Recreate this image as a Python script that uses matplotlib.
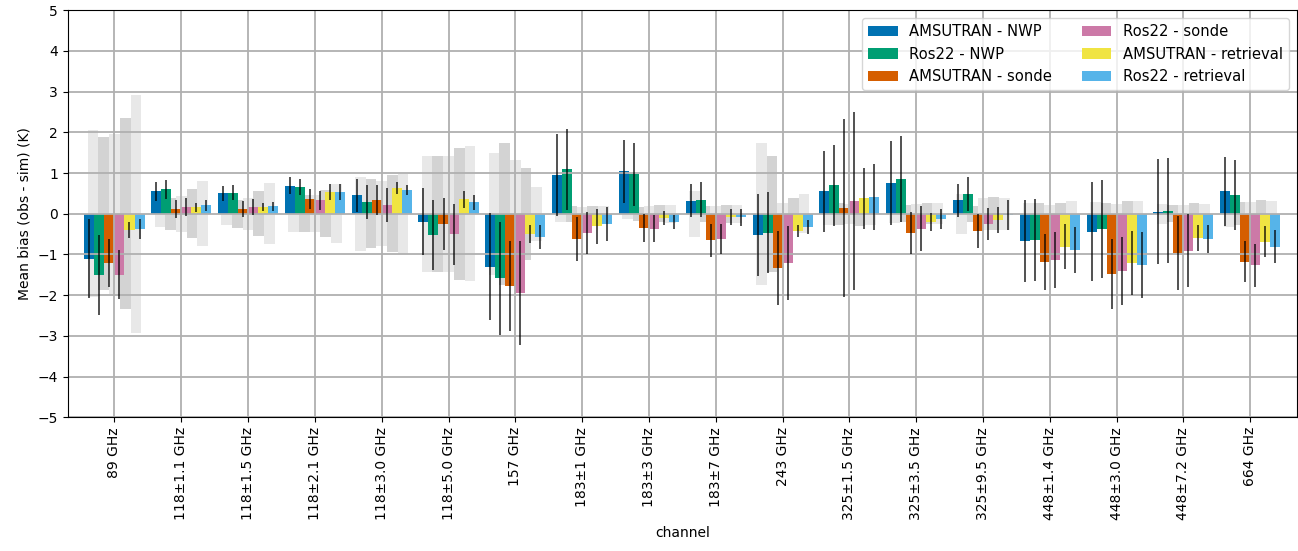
import numpy as np
import matplotlib
matplotlib.use("Agg")
import matplotlib.pyplot as plt

channels = ["89 GHz", "118±1.1 GHz", "118±1.5 GHz", "118±2.1 GHz", "118±3.0 GHz",
            "118±5.0 GHz", "157 GHz", "183±1 GHz", "183±3 GHz", "183±7 GHz",
            "243 GHz", "325±1.5 GHz", "325±3.5 GHz", "325±9.5 GHz", "448±1.4 GHz",
            "448±3.0 GHz", "448±7.2 GHz", "664 GHz"]

series_names = ["AMSUTRAN - NWP", "Ros22 - NWP", "AMSUTRAN - sonde",
                "Ros22 - sonde", "AMSUTRAN - retrieval", "Ros22 - retrieval"]

amsutran_nwp = [-1.10, 0.55, 0.50, 0.69, 0.45, -0.19, -1.30, 0.95, 1.04, 0.32,
                -0.52, 0.55, 0.75, 0.33, -0.67, -0.44, 0.05, 0.55]
ros22_nwp = [-1.50, 0.60, 0.52, 0.65, 0.29, -0.52, -1.58, 1.09, 0.97, 0.35,
             -0.46, 0.70, 0.85, 0.48, -0.64, -0.37, 0.08, 0.45]
amsutran_sonde = [-1.21, 0.11, 0.11, 0.36, 0.33, -0.25, -1.77, -0.62, -0.35, -0.65,
                  -1.33, 0.15, -0.47, -0.42, -1.18, -1.48, -0.96, -1.18]
ros22_sonde = [-1.50, 0.17, 0.17, 0.33, 0.21, -0.50, -1.95, -0.47, -0.37, -0.62,
               -1.21, 0.31, -0.37, -0.25, -1.13, -1.41, -0.91, -1.26]
amsutran_retr = [-0.39, 0.16, 0.16, 0.53, 0.63, 0.36, -0.50, -0.30, -0.10, -0.08,
                 -0.42, 0.38, -0.20, -0.15, -0.81, -1.21, -0.59, -0.69]
ros22_retr = [-0.37, 0.21, 0.18, 0.53, 0.58, 0.28, -0.57, -0.25, -0.20, -0.08,
              -0.32, 0.41, -0.13, -0.03, -0.89, -1.26, -0.62, -0.81]

err_amsutran_nwp = [0.96, 0.23, 0.19, 0.21, 0.40, 0.82, 1.32, 1.00, 0.78, 0.41,
                    1.00, 1.00, 1.03, 0.40, 1.00, 1.22, 1.29, 0.84]
err_ros22_nwp = [0.99, 0.23, 0.18, 0.20, 0.42, 0.87, 1.39, 1.00, 0.78, 0.42,
                 1.00, 0.99, 1.05, 0.42, 1.00, 1.21, 1.30, 0.86]
err_amsutran_sonde = [0.59, 0.22, 0.20, 0.24, 0.37, 0.64, 1.10, 0.53, 0.34, 0.40,
                      0.90, 2.19, 0.51, 0.42, 0.69, 0.85, 0.90, 0.50]
err_ros22_sonde = [0.60, 0.22, 0.20, 0.23, 0.42, 0.75, 1.28, 0.52, 0.33, 0.38,
                   0.90, 2.18, 0.55, 0.39, 0.69, 0.84, 0.90, 0.53]
err_amsutran_retr = [0.20, 0.11, 0.10, 0.20, 0.15, 0.21, 0.22, 0.43, 0.17, 0.19,
                     0.15, 0.75, 0.23, 0.31, 0.55, 0.79, 0.32, 0.38]
err_ros22_retr = [0.24, 0.13, 0.12, 0.20, 0.13, 0.19, 0.30, 0.41, 0.17, 0.21,
                  0.17, 0.82, 0.25, 0.36, 0.57, 0.82, 0.34, 0.41]

# grey background spread bars (five per channel, symmetric about zero)
spread_1 = [2.05, 0.32, 0.27, 0.45, 0.91, 1.43, 1.50, 0.20, 0.12, 0.56,
            1.75, 0.27, 0.22, 0.49, 0.26, 0.28, 0.25, 0.32]
spread_2 = [1.88, 0.40, 0.35, 0.45, 0.85, 1.42, 1.75, 0.19, 0.17, 0.19,
            1.43, 0.27, 0.21, 0.20, 0.26, 0.26, 0.21, 0.28]
spread_3 = [1.97, 0.44, 0.40, 0.45, 0.80, 1.43, 1.31, 0.16, 0.18, 0.18,
            0.26, 0.24, 0.23, 0.39, 0.21, 0.23, 0.21, 0.28]
spread_4 = [2.35, 0.60, 0.55, 0.58, 0.95, 1.62, 1.13, 0.18, 0.21, 0.22,
            0.38, 0.30, 0.26, 0.41, 0.26, 0.31, 0.26, 0.33]
spread_5 = [2.92, 0.80, 0.75, 0.72, 0.98, 1.66, 0.67, 0.18, 0.22, 0.22,
            0.48, 0.27, 0.26, 0.39, 0.31, 0.31, 0.23, 0.31]

y_ticks = [-5, -4, -3, -2, -1, 0, 1, 2, 3, 4, 5]

colors = ["#0072B2", "#009E73", "#D55E00", "#CC79A7", "#F0E442", "#56B4E9"]
grey_colors = ["#e8e8e8", "#d3d3d3", "#e8e8e8", "#d3d3d3", "#e8e8e8"]

means = [amsutran_nwp, ros22_nwp, amsutran_sonde, ros22_sonde, amsutran_retr, ros22_retr]
errs = [err_amsutran_nwp, err_ros22_nwp, err_amsutran_sonde, err_ros22_sonde,
        err_amsutran_retr, err_ros22_retr]
spreads = [spread_1, spread_2, spread_3, spread_4, spread_5]

fig = plt.figure(figsize=(12.98, 5.51), dpi=100)
ax = fig.add_axes([67.7 / 1298, 1 - 417.3 / 551, (1297 - 67.7) / 1298, (417.3 - 10.3) / 551])

x = np.arange(len(channels))
w = 0.15
gw = 0.16

for j, sp in enumerate(spreads):
    sp = np.array(sp)
    ax.bar(x + (j - 2) * gw, 2 * sp, bottom=-sp, width=gw, color=grey_colors[j],
           linewidth=0, zorder=0.5)

for i, (m, e) in enumerate(zip(means, errs)):
    pos = x + (i - 2.5) * w
    ax.bar(pos, m, width=w, color=colors[i], label=series_names[i], linewidth=0, zorder=1)
    ax.errorbar(pos, m, yerr=e, fmt="none", ecolor="k", elinewidth=1.2, alpha=0.8,
                capsize=0, zorder=2)

ax.set_xlim(-0.7, 17.7)
ax.set_ylim(-5, 5)
ax.set_yticks(y_ticks)
ax.set_xticks(x)
ax.set_xticklabels(channels, rotation=90, fontsize=10)
ax.tick_params(axis="y", labelsize=10)
ax.grid(True, color="#b0b0b0", linewidth=1.3)
ax.set_ylabel("Mean bias (obs - sim) (K)", fontsize=10)
ax.set_xlabel("channel", fontsize=10)
ax.legend(loc="upper right", ncol=2, fontsize=10.6, borderaxespad=0.55)

fig.savefig("out.png", dpi=100)
